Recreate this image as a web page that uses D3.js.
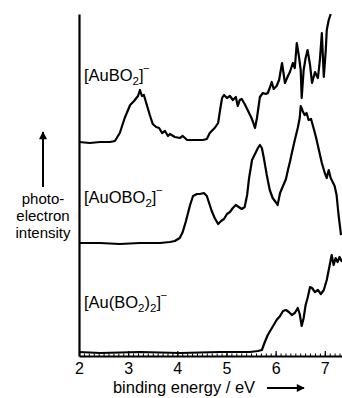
<!DOCTYPE html>
<html>
<head>
<meta charset="utf-8">
<script src="https://cdn.jsdelivr.net/npm/d3@7"></script>
<style>
  body { margin: 0; background: #fff; }
  svg { display: block; font-family: "Liberation Sans", Arial, sans-serif; }
</style>
</head>
<body>
<svg id="chart" width="342" height="398"></svg>
<script>
// binding energy (eV) and relative intensity (arb. units above each baseline)
const auBO2Energy = [2.00, 2.22, 2.43, 2.63, 2.73, 2.83, 2.93, 3.04, 3.12, 3.20, 3.24, 3.28, 3.32, 3.38, 3.44, 3.50, 3.57, 3.63, 3.69, 3.75, 3.81, 3.85, 3.95, 4.05, 4.11, 4.20, 4.36, 4.52, 4.60, 4.66, 4.76, 4.83, 4.87, 4.91, 4.95, 5.01, 5.07, 5.13, 5.19, 5.23, 5.27, 5.31, 5.37, 5.43, 5.50, 5.54, 5.58, 5.62, 5.68, 5.74, 5.80, 5.84, 5.88, 5.92, 5.96, 6.02, 6.07, 6.13, 6.19, 6.25, 6.29, 6.35, 6.39, 6.43, 6.47, 6.51, 6.53, 6.57, 6.61, 6.65, 6.70, 6.74, 6.80, 6.86, 6.90, 6.94, 6.98, 7.02, 7.04, 7.08, 7.12]
const auBO2Signal = [0, -1, 0, 0, 1, 9, 24, 37, 41, 46, 52, 46, 47, 37, 27, 18, 15, 14, 9, 11, 6, 8, 5, 4, 6, 2, 2, 2, 3, 9, 14, 19, 32, 44, 47, 44, 46, 42, 45, 36, 42, 43, 38, 32, 25, 20, 14, 24, 45, 49, 48, 49, 54, 60, 53, 56, 62, 79, 59, 66, 70, 79, 74, 99, 87, 72, 44, 72, 84, 92, 77, 59, 70, 64, 82, 109, 65, 92, 112, 122, 128]

const auOBO2Energy = [2.00, 2.43, 2.83, 3.24, 3.65, 3.85, 3.95, 4.05, 4.11, 4.17, 4.26, 4.32, 4.40, 4.46, 4.54, 4.60, 4.64, 4.70, 4.76, 4.83, 4.89, 4.95, 5.01, 5.07, 5.13, 5.19, 5.25, 5.31, 5.37, 5.42, 5.46, 5.52, 5.58, 5.64, 5.68, 5.72, 5.76, 5.82, 5.88, 5.94, 6.00, 6.04, 6.09, 6.15, 6.21, 6.25, 6.29, 6.33, 6.39, 6.45, 6.49, 6.51, 6.55, 6.59, 6.63, 6.67, 6.72, 6.76, 6.82, 6.88, 6.94, 7.00, 7.04, 7.08, 7.12, 7.16, 7.20, 7.24, 7.28, 7.33]
const auOBO2Signal = [0, 0, -1, 0, 0, 1, 2, 5, 11, 21, 38, 47, 49, 49, 50, 47, 41, 32, 25, 19, 22, 24, 29, 31, 35, 38, 36, 34, 36, 48, 65, 83, 89, 95, 98, 95, 85, 68, 53, 45, 41, 38, 50, 57, 64, 73, 81, 90, 103, 115, 125, 137, 132, 128, 130, 123, 124, 117, 106, 93, 80, 70, 65, 73, 65, 61, 57, 48, 28, 8]

const auBO22Energy = [2.00, 2.43, 3.24, 4.05, 4.87, 5.48, 5.64, 5.72, 5.78, 5.84, 5.90, 5.96, 6.02, 6.09, 6.15, 6.21, 6.27, 6.33, 6.39, 6.45, 6.49, 6.53, 6.57, 6.61, 6.65, 6.70, 6.74, 6.80, 6.86, 6.92, 6.98, 7.04, 7.10, 7.14, 7.18, 7.22, 7.26, 7.30, 7.35]
const auBO22Signal = [1, 0, 1, 0, 1, 1, 2, 3, 11, 18, 23, 28, 33, 37, 42, 43, 41, 38, 40, 45, 39, 27, 35, 48, 55, 66, 65, 61, 63, 59, 63, 73, 88, 98, 88, 95, 91, 96, 91]

// vertical offset of each spectrum in the stack
const baselines = [214, 113, 3]
const xTicks = [2, 3, 4, 5, 6, 7]

const width = 342
const height = 398
const margin = { top: 14, right: 0, bottom: 42, left: 79 }

const svg = d3.select('#chart')

const x = d3.scaleLinear()
  .domain([2, 7.35])
  .range([margin.left, width - margin.right])

const y = d3.scaleLinear()
  .domain([0, 342])
  .range([height - margin.bottom, margin.top])

const spectra = [
  { energy: auBO2Energy, signal: auBO2Signal, base: baselines[0] },
  { energy: auOBO2Energy, signal: auOBO2Signal, base: baselines[1] },
  { energy: auBO22Energy, signal: auBO22Signal, base: baselines[2] }
]

const line = d3.line()
  .x(d => x(d[0]))
  .y(d => y(d[1]))

svg.selectAll('path.spectrum')
  .data(spectra)
  .enter()
  .append('path')
  .attr('class', 'spectrum')
  .attr('d', s => line(s.energy.map((e, i) => [e, s.signal[i] + s.base])))
  .attr('fill', 'none')
  .attr('stroke', '#000')
  .attr('stroke-width', 2.2)
  .attr('stroke-linejoin', 'round')

// axes
const axisY = height - margin.bottom

const minor = svg.append('g')
  .attr('transform', `translate(0,${axisY})`)
  .call(d3.axisBottom(x)
    .tickValues(d3.range(20, 74).map(v => v / 10))
    .tickSize(-2.5)
    .tickSizeOuter(0)
    .tickFormat(''))
minor.select('.domain').remove()
minor.selectAll('line').attr('stroke-width', 1)

const major = svg.append('g')
  .attr('transform', `translate(0,${axisY})`)
  .call(d3.axisBottom(x)
    .tickValues(xTicks)
    .tickSize(-5)
    .tickSizeOuter(0)
    .tickPadding(7)
    .tickFormat(d3.format('d')))
major.select('.domain').attr('stroke-width', 2)
major.selectAll('line').attr('stroke-width', 1.2)
major.selectAll('text')
  .attr('font-size', 16)
  .attr('font-family', '"Liberation Sans", Arial, sans-serif')

const left = svg.append('g')
  .attr('transform', `translate(${margin.left},0)`)
  .call(d3.axisLeft(y).tickValues([]).tickSizeOuter(0))
left.select('.domain').attr('stroke-width', 2.2)

// arrowhead marker
svg.append('defs').append('marker')
  .attr('id', 'head')
  .attr('viewBox', '0 0 10 10')
  .attr('refX', 9).attr('refY', 5)
  .attr('markerWidth', 11).attr('markerHeight', 8)
  .attr('markerUnits', 'userSpaceOnUse')
  .attr('orient', 'auto')
  .append('path')
  .attr('d', 'M0,0 L10,5 L0,10 z')
  .attr('fill', '#000')

// x axis title with arrow
svg.append('text')
  .attr('x', 184).attr('y', 393)
  .attr('text-anchor', 'middle')
  .attr('font-size', 16.5)
  .text('binding energy / eV')

svg.append('line')
  .attr('x1', 267).attr('x2', 304)
  .attr('y1', 388).attr('y2', 388)
  .attr('stroke', '#000').attr('stroke-width', 2)
  .attr('marker-end', 'url(#head)')

// y axis title with arrow
svg.append('line')
  .attr('x1', 43).attr('x2', 43)
  .attr('y1', 187).attr('y2', 132)
  .attr('stroke', '#000').attr('stroke-width', 2)
  .attr('marker-end', 'url(#head)')

const yTitle = ['photo-', 'electron', 'intensity']
svg.append('g')
  .selectAll('text')
  .data(yTitle)
  .enter()
  .append('text')
  .attr('x', 43)
  .attr('y', (d, i) => 204 + i * 17)
  .attr('text-anchor', 'middle')
  .attr('font-size', 15)
  .text(d => d)

// species labels
const labels = [
  { x: 84, y: 81, parts: [['[AuBO', ''], ['2', 'sub'], [']', ''], ['\u2013', 'sup']] },
  { x: 84, y: 203, parts: [['[AuOBO', ''], ['2', 'sub'], [']', ''], ['\u2013', 'sup']] },
  { x: 84, y: 308, parts: [['[Au(BO', ''], ['2', 'sub'], [')', ''], ['2', 'sub'], [']', ''], ['\u2013', 'sup']] }
]

labels.forEach(l => {
  const t = svg.append('text')
    .attr('x', l.x).attr('y', l.y)
    .attr('font-size', 16.5)
  let shift = 0
  l.parts.forEach(([s, kind]) => {
    const want = kind === 'sub' ? 4 : kind === 'sup' ? -10 : 0
    const ts = t.append('tspan').text(s).attr('dy', want - shift)
    if (kind === 'sub') ts.attr('font-size', 11.5)
    if (kind === 'sup') ts.attr('font-size', 10)
    shift = want
  })
})
</script>
</body>
</html>
